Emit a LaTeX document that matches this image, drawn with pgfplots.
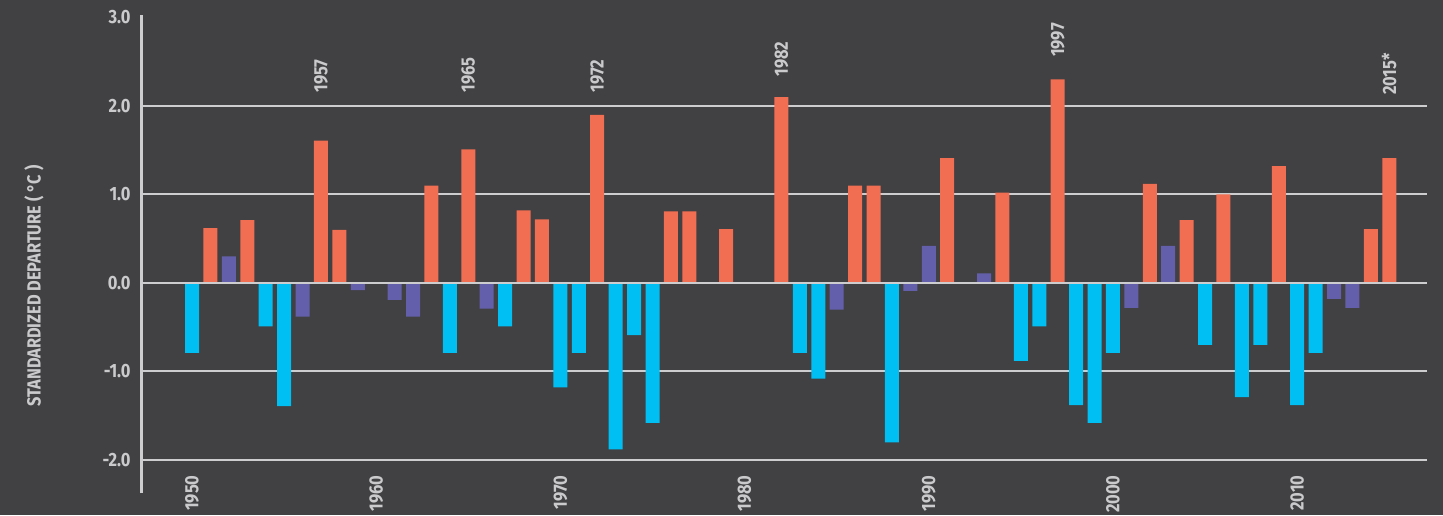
\documentclass[border=0pt]{standalone}
\usepackage{pgfplots}
\pgfplotsset{compat=1.18}
\usepackage{fontspec}
\setmainfont{Fira Sans}[FakeStretch=0.86]
\definecolor{bg}{HTML}{414042}
\definecolor{txt}{HTML}{CACACC}
\definecolor{gridc}{HTML}{CDCDCF}
\definecolor{nino}{HTML}{F26E52}
\definecolor{nina}{HTML}{00BFF2}
\definecolor{neut}{HTML}{645FAB}
\tikzset{yrlab/.style={rotate=90, inner sep=0pt, text=txt, font=\bfseries\fontsize{9.6}{11}\selectfont}}
\begin{document}
\begin{tikzpicture}
\fill[bg] (0,0) rectangle (721.5pt,257.5pt);
\useasboundingbox (0,0) rectangle (721.5pt,257.5pt);
\node[rotate=90, text=txt, font=\bfseries\fontsize{9.5}{11}\selectfont, inner sep=0pt] at (17pt,114.5pt) {STANDARDIZED DEPARTURE ( °C )};
\begin{axis}[
  scale only axis, width=643pt, height=239pt,
  at={(70.5pt,11pt)}, anchor=south west,
  xmin=1947.23, xmax=2017.05, ymin=-2.373, ymax=3.028,
  axis line style={draw=none},
  ytick={-2,-1,0,1,2}, yticklabels={-2.0,-1.0,0.0,1.0,2.0},
  extra y ticks={3}, extra y tick labels={3.0},
  extra y tick style={grid=none},
  xtick=\empty,
  major tick length=0pt,
  ymajorgrids, grid style={gridc, line width=1pt},
  yticklabel style={anchor=east, inner sep=0pt, xshift=-5pt, text=txt, font=\bfseries\fontsize{9.6}{11}\selectfont},
  clip=false,
]
\addplot[ybar, bar width=0.76, fill=nino, draw=none] coordinates {
(1951,0.62) (1953,0.71) (1957,1.61) (1958,0.60) (1963,1.10) (1965,1.51)
(1968,0.82) (1969,0.72) (1972,1.90) (1976,0.81) (1977,0.81) (1979,0.61)
(1982,2.10) (1986,1.10) (1987,1.10) (1991,1.41) (1994,1.02) (1997,2.30)
(2002,1.12) (2004,0.71) (2006,1.00) (2009,1.32) (2014,0.61) (2015,1.41)};
\addplot[ybar, bar width=0.76, fill=nina, draw=none] coordinates {
(1950,-0.79) (1954,-0.49) (1955,-1.39) (1964,-0.79) (1967,-0.49) (1970,-1.18)
(1971,-0.79) (1973,-1.88) (1974,-0.59) (1975,-1.58) (1983,-0.79) (1984,-1.08)
(1988,-1.80) (1995,-0.88) (1996,-0.49) (1998,-1.38) (1999,-1.58) (2000,-0.79)
(2005,-0.70) (2007,-1.29) (2008,-0.70) (2010,-1.38) (2011,-0.79)};
\addplot[ybar, bar width=0.76, fill=neut, draw=none] coordinates {
(1952,0.30) (1956,-0.38) (1959,-0.08) (1961,-0.19) (1962,-0.38) (1966,-0.29)
(1985,-0.30) (1989,-0.09) (1990,0.42) (1993,0.11) (2001,-0.28) (2003,0.42)
(2012,-0.18) (2013,-0.28)};
\draw[gridc, line width=1pt] (axis cs:1947.23,0) -- (axis cs:2017.05,0);
\draw[gridc, line width=1.5pt] (axis cs:1947.23,-2.373) -- (axis cs:1947.23,3.028);
\node[yrlab, anchor=east] at (axis cs:1950,-2.17) {1950};
\node[yrlab, anchor=east] at (axis cs:1960,-2.17) {1960};
\node[yrlab, anchor=east] at (axis cs:1970,-2.17) {1970};
\node[yrlab, anchor=east] at (axis cs:1980,-2.17) {1980};
\node[yrlab, anchor=east] at (axis cs:1990,-2.17) {1990};
\node[yrlab, anchor=east] at (axis cs:2000,-2.17) {2000};
\node[yrlab, anchor=east] at (axis cs:2010,-2.17) {2010};
\node[yrlab, anchor=west] at (axis cs:1957,2.147) {1957};
\node[yrlab, anchor=west] at (axis cs:1965,2.147) {1965};
\node[yrlab, anchor=west] at (axis cs:1972,2.147) {1972};
\node[yrlab, anchor=west] at (axis cs:1982,2.33) {1982};
\node[yrlab, anchor=west] at (axis cs:1997,2.55) {1997};
\node[yrlab, anchor=west] at (axis cs:2015,2.12) {2015*};
\end{axis}
\end{tikzpicture}
\end{document}
